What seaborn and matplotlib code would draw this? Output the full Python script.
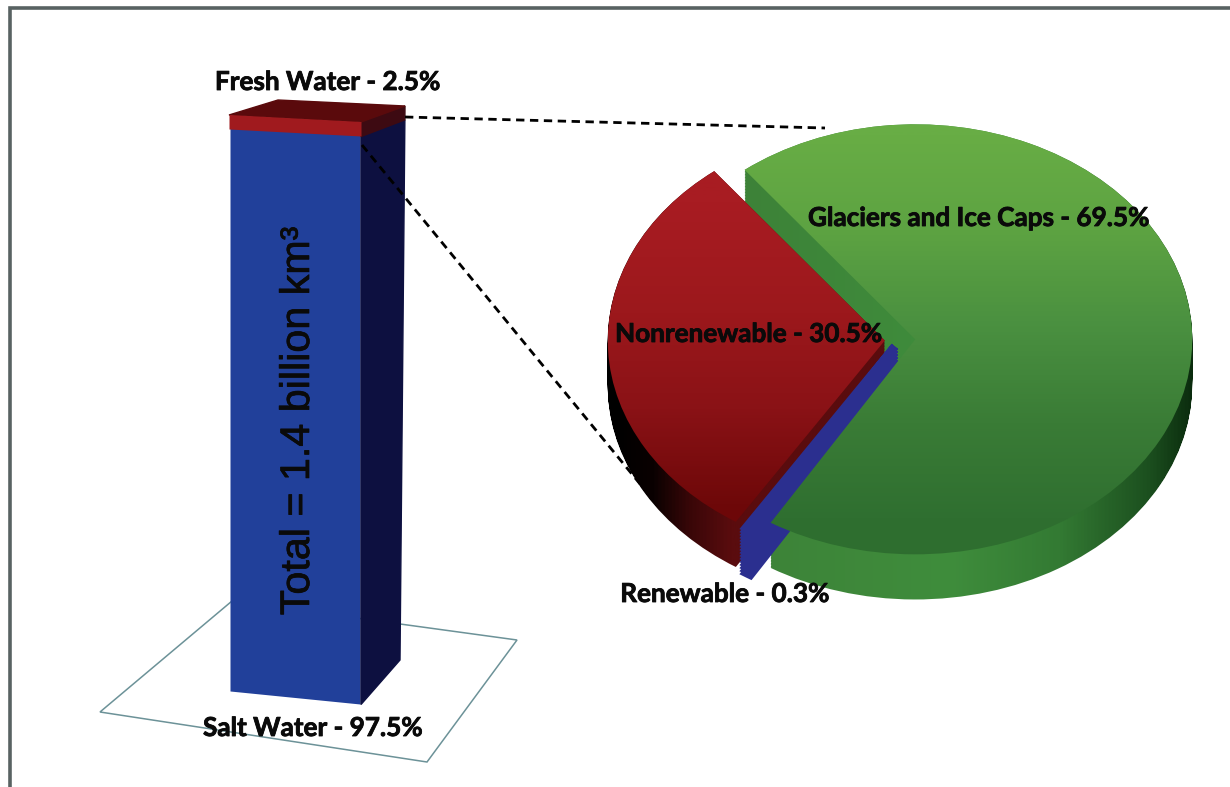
import numpy as np
import matplotlib.pyplot as plt
import matplotlib.patheffects as pe
import seaborn as sns
from matplotlib.colors import LinearSegmentedColormap
from matplotlib.patches import PathPatch
from matplotlib.path import Path
from matplotlib.transforms import Affine2D

# water totals, percent
bar_names = ['Salt Water', 'Fresh Water']
bar_values = [97.5, 2.5]

# fresh water split, percent (counter clockwise from the red slice)
pie_names = ['Nonrenewable', 'Renewable', 'Glaciers and Ice Caps']
pie_values = [30.5, 0.3, 69.5]
pie_explode = [0.055, 0.035, 0.055]

W, H = 1230, 787
PIE_CX, PIE_CY, RX, RY = 900, 340, 277, 215
DEPTH = 0.21
LIM = 1.6

sns.set_theme(style='white')
plt.rcParams['font.family'] = ['Lato', 'DejaVu Sans']

fig = plt.figure(figsize=(W / 100, H / 100), dpi=100, facecolor='white')


def pixel_axes(z):
    a = fig.add_axes([0, 0, 1, 1], zorder=z)
    a.patch.set_alpha(0)
    return a


def finish_pixels(a):
    a.set_xlim(0, W)
    a.set_ylim(H, 0)
    a.axis('off')


# --- frame and floor
floor = pixel_axes(0)
floor.plot([10, 10, W], [H, 8, 8], color='#586262', lw=2.6, solid_joinstyle='miter')
floor.fill([100, 232, 517, 427], [712, 601, 640, 762], fc='white', ec='#6c9298', lw=1.1)
finish_pixels(floor)

# --- column: front face through barplot, sheared into the picture
ax = pixel_axes(1)
bar_colors = ['#21409a', '#a01a1e']
bottom = 0
for name, val, col in zip(bar_names, bar_values, bar_colors):
    sns.barplot(x=['Water'], y=[val], color=col, saturation=1, width=1, bottom=bottom, ax=ax)
    bottom += val
finish_pixels(ax)
shears = [Affine2D.from_values(130, 13, 0, -5.85, 295.5, 698),
          Affine2D.from_values(132, 7, 0, -5.8, 295.5, 698.5)]
for p, shear, z in zip(ax.patches, shears, [3, 3.5]):
    p.set_transform(shear + ax.transData)
    p.set_edgecolor('none')
    p.set_zorder(z)


def side_points(v0, v1):
    near = lambda v: 704.5 - 5.825 * v
    far = lambda v: 660 - 5.54 * v
    far_x = lambda v: 400 + 0.05 * v
    return [361, far_x(v0), far_x(v1), 361], [near(v0), far(v0), far(v1), near(v1)]


xs, ys = side_points(0, bar_values[0])
ax.fill(xs, ys, color='#0d1040', zorder=3)
xs, ys = side_points(bar_values[0], 100)
ax.fill(xs, ys, color='#3d0a12', zorder=3)
ax.fill([229, 361, 405, 278], [115, 122, 106, 100], color='#5a0a0c', zorder=3)

# leader lines to the pie
ax.plot([405, 825], [117, 128], color='black', lw=2, ls=(0, (3, 2)), zorder=4)
ax.plot([362, 645], [145, 490], color='black', lw=2, ls=(0, (3, 2)), zorder=4)
finish_pixels(ax)

# --- pie, squashed into an ellipse
pie_ax = fig.add_axes([(PIE_CX - RX * LIM) / W, 1 - (PIE_CY + RY * LIM) / H,
                       2 * RX * LIM / W, 2 * RY * LIM / H], zorder=2)
pie_ax.patch.set_alpha(0)
wedges, _ = pie_ax.pie(pie_values, explode=pie_explode, startangle=128, radius=1,
                       wedgeprops={'fc': 'none', 'ec': 'none'})
pie_ax.set_aspect('auto')
extent = [-LIM, LIM, -LIM, LIM]


def ramp(stops, horizontal=False):
    cmap = LinearSegmentedColormap.from_list('r', stops)
    g = np.linspace(0, 1, 512)
    return cmap(g[None, :] if horizontal else g[:, None])


def swept(path, steps=30):
    parts = [Path(path.vertices - [0, DEPTH * k / steps], path.codes) for k in range(steps + 1)]
    return Path.make_compound_path(*parts)


def gradient(img, path, z):
    im = pie_ax.imshow(img, extent=extent, origin='upper', aspect='auto', zorder=z)
    im.set_clip_path(path, transform=pie_ax.transData)


red, blue, green = [w.get_path() for w in wedges]

side_green = [(0, '#3d8238'), (0.32, '#3d8238'), (0.556, '#3f8d3c'), (0.68, '#337a33'),
              (0.78, '#1c501f'), (0.833, '#0a2a0d'), (1, '#0a2a0d')]
side_red = [(0, '#000000'), (0.18, '#000000'), (0.22, '#0a0101'), (0.263, '#3a0708'),
            (0.308, '#5a0c0e'), (1, '#5a0c0e')]
gradient(ramp(side_green, True), swept(green), 1)
gradient(ramp(side_red, True), swept(red), 1.5)

# the thin renewable slice only shows as a thick ribbon
for k in range(16):
    shifted = Path(blue.vertices - [0, DEPTH * k / 15], blue.codes)
    pie_ax.add_patch(PathPatch(shifted, fc='#2b2f8f', ec='#2b2f8f', lw=6, zorder=2))

top_green = [(0, '#68ad45'), (0.2, '#68ad45'), (0.34, '#5da342'), (0.48, '#4a9040'),
             (0.62, '#3a7c36'), (0.76, '#2f6f30'), (1, '#2b6a2c')]
top_red = [(0, '#a81c22'), (0.3, '#a81c22'), (0.46, '#9c181c'), (0.6, '#8a1216'),
           (0.74, '#6e0809'), (1, '#680606')]
gradient(ramp(top_green), green, 3)
gradient(ramp(top_red), red, 3)
pie_ax.set_xlim(-LIM, LIM)
pie_ax.set_ylim(-LIM, LIM)
pie_ax.axis('off')

# --- labels on top of everything
top = pixel_axes(5)
finish_pixels(top)
heavy = [pe.withStroke(linewidth=0.6, foreground='#0a0a0a')]
label = dict(ha='center', va='center', color='#0a0a0a', fontweight='bold', fontsize=18.8,
             path_effects=heavy)
top.text(328, 82, f'{bar_names[1]} - {bar_values[1]}%', **label)
top.text(313, 728, f'{bar_names[0]} - {bar_values[0]}%', **label)
top.text(725, 594, f'{pie_names[1]} - {pie_values[1]}%', **label)
top.text(749, 334, f'{pie_names[0]} - {pie_values[0]}%', **label)
top.text(979, 218, f'{pie_names[2]} - {pie_values[2]}%', **label)
top.text(298, 421, 'Total = 1.4 billion km³', rotation=90, ha='center', va='center',
         color='#0a0a0a', fontsize=29.7, family='Liberation Sans',
         path_effects=[pe.withStroke(linewidth=0.5, foreground='#0a0a0a')])

fig.savefig('out.png', dpi=100)
